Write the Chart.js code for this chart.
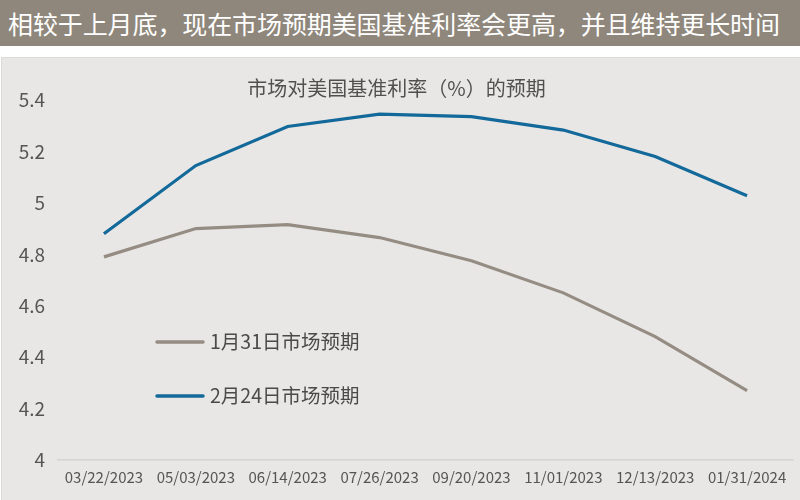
<!DOCTYPE html>
<html>
<head>
<meta charset="utf-8">
<script src="https://cdn.jsdelivr.net/npm/chart.js@4.4.1/dist/chart.umd.min.js"></script>
<style>
html,body{margin:0;padding:0;background:#fff;width:800px;height:500px;overflow:hidden;font-family:"Noto Sans CJK SC","Noto Sans",sans-serif;}
#hdr{position:absolute;left:0;top:0;width:800px;height:46px;background:#8f877c;color:#fff;font-size:25px;line-height:46px;padding-left:8px;box-sizing:border-box;white-space:nowrap;letter-spacing:-0.1px;}
#panel{position:absolute;left:1px;top:57px;width:799px;height:443px;background:#e8e7e5;border-top:1px solid #dcdad8;border-left:1px solid #dcdad8;box-sizing:border-box;}
#wrap{position:absolute;left:0;top:56px;width:800px;height:444px;}
</style>
</head>
<body>
<div id="hdr">相较于上月底，现在市场预期美国基准利率会更高，并且维持更长时间</div>
<div id="panel"></div>
<div id="wrap"><canvas id="c" width="800" height="444"></canvas></div>
<script>
const categories = ["03/22/2023","05/03/2023","06/14/2023","07/26/2023","09/20/2023","11/01/2023","12/13/2023","01/31/2024"];
const jan31 = [4.79, 4.90, 4.915, 4.865, 4.775, 4.65, 4.48, 4.27];
const feb24 = [4.88, 5.145, 5.297, 5.345, 5.335, 5.283, 5.18, 5.028];
const seriesNames = ["1月31日市场预期","2月24日市场预期"];
const yTicks = [4, 4.2, 4.4, 4.6, 4.8, 5, 5.2, 5.4];
const titleText = "市场对美国基准利率（%）的预期";

const FONT = '"Noto Sans CJK SC", "Noto Sans", sans-serif';

const legendPlugin = {
  id: 'inlegend',
  afterDatasetsDraw(chart) {
    const ctx = chart.ctx;
    const ys = [286, 340];
    chart.data.datasets.forEach((ds, i) => {
      ctx.save();
      ctx.strokeStyle = ds.borderColor;
      ctx.lineWidth = 3.5;
      ctx.lineCap = 'round';
      ctx.beginPath();
      ctx.moveTo(157, ys[i]);
      ctx.lineTo(203, ys[i]);
      ctx.stroke();
      ctx.fillStyle = '#4a4a4a';
      ctx.font = '19.5px ' + FONT;
      ctx.textBaseline = 'middle';
      ctx.textAlign = 'left';
      ctx.fillText(ds.label, 210, ys[i]);
      ctx.restore();
    });
  }
};

new Chart(document.getElementById('c'), {
  type: 'line',
  data: {
    labels: categories,
    datasets: [
      {label: seriesNames[0], data: jan31, borderColor: '#958d83', borderWidth: 3.2, pointRadius: 0, tension: 0, fill: false},
      {label: seriesNames[1], data: feb24, borderColor: '#14699b', borderWidth: 3.2, pointRadius: 0, tension: 0, fill: false}
    ]
  },
  options: {
    responsive: false,
    animation: false,
    events: [],
    layout: {padding: {left: 0, right: 7, top: 0, bottom: 0}},
    plugins: {
      legend: {display: false},
      tooltip: {enabled: false},
      title: {display: true, text: titleText, color: '#505050', font: {family: FONT, size: 20, weight: 'normal'}, padding: {top: 20, bottom: 0}}
    },
    scales: {
      x: {
        offset: true,
        grid: {display: false, drawTicks: false},
        border: {display: true, color: '#d6d4d2', width: 1.5},
        ticks: {color: '#555', font: {family: FONT, size: 15}, padding: 8, maxRotation: 0, autoSkip: false},
        afterFit(s) { s.height = 40; }
      },
      y: {
        min: 4, max: 5.4,
        grid: {display: false, drawTicks: false},
        border: {display: false},
        afterBuildTicks(s) { s.ticks = yTicks.map(v => ({value: v})); },
        ticks: {color: '#555', font: {family: FONT, size: 19}, padding: 13,
          callback: (v) => String(Math.round(v * 10) / 10)},
        afterFit(s) { s.width = 58; }
      }
    }
  },
  plugins: [legendPlugin]
});
</script>
</body>
</html>
